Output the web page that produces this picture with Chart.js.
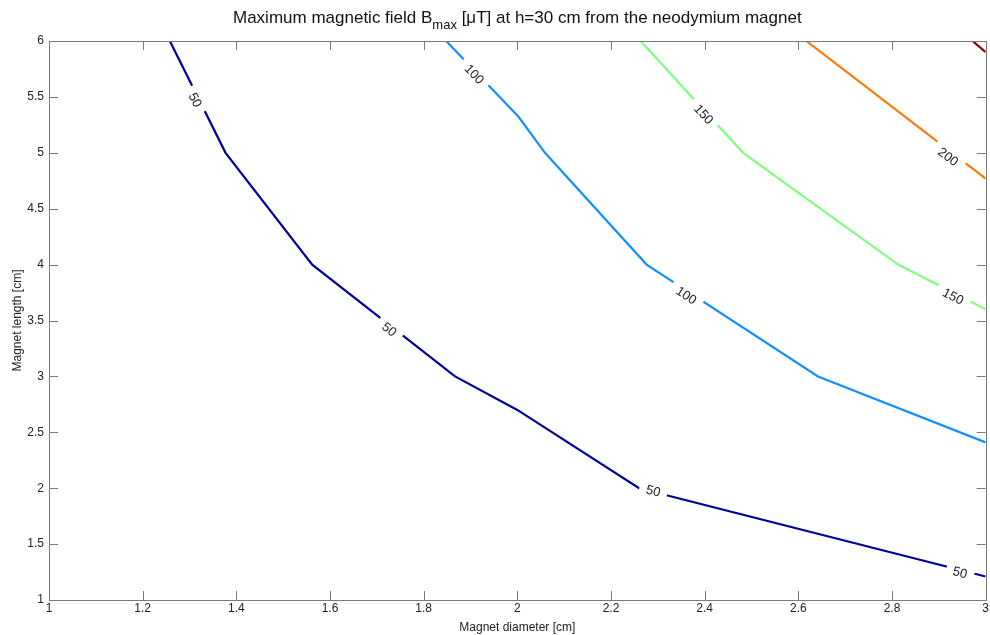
<!DOCTYPE html>
<html>
<head>
<meta charset="utf-8">
<script src="https://cdn.jsdelivr.net/npm/chart.js@4.4.1/dist/chart.umd.min.js"></script>
<style>
html,body{margin:0;padding:0;background:#fff;}
#wrap{width:990px;height:635px;position:relative;}
</style>
</head>
<body>
<div id="wrap"><canvas id="c" width="990" height="635"></canvas></div>
<script>
// ---- data ----
const xTicks = [1, 1.2, 1.4, 1.6, 1.8, 2, 2.2, 2.4, 2.6, 2.8, 3];
const yTicks = [1, 1.5, 2, 2.5, 3, 3.5, 4, 4.5, 5, 5.5, 6];
const levels = [50, 100, 150, 200, 250];
const levelColors = ['#00009a', '#1390ff', '#80ff80', '#ff7a00', '#8a0000'];

const diam50 = [1.258, 1.377, 1.562, 1.867, 2.0, 2.26, 3.0];
const len50  = [6.0,   5.0,   4.0,   3.0,   2.70, 2.0, 1.21];
const diam100 = [1.848, 2.003, 2.059, 2.276, 2.642, 3.0];
const len100  = [6.0,   5.32,  5.0,   4.0,   3.0,   2.41];
const diam150 = [2.263, 2.482, 2.813, 3.0];
const len150  = [6.0,   5.0,   4.0,   3.60];
const diam200 = [2.617, 3.0];
const len200  = [6.0,   4.77];
const diam250 = [2.972, 3.0];
const len250  = [6.0,   5.9];

// contour label positions
const labelLevel = [50, 50, 50, 50, 100, 100, 150, 150, 200];
const labelDiam  = [1.311, 1.726, 2.29, 2.945, 1.907, 2.36, 2.397, 2.93, 2.919];
const labelLen   = [5.47, 3.415, 1.97, 1.24, 5.70, 3.72, 5.34, 3.71, 4.96];

const series = [[diam50,len50],[diam100,len100],[diam150,len150],[diam200,len200],[diam250,len250]];
const datasets = series.map((s,i)=>({
  label: String(levels[i]),
  data: s[0].map((d,j)=>({x:d, y:s[1][j]})),
  showLine: true,
  borderColor: levelColors[i],
  backgroundColor: levelColors[i],
  borderWidth: 2.2,
  pointRadius: 0,
  tension: 0,
  clip: 0
}));

const FONT = '"Liberation Sans", Arial, sans-serif';

const decor = {
  id: 'decor',
  afterDatasetsDraw(chart) {
    const ctx = chart.ctx;
    const xs = chart.scales.x, ys = chart.scales.y;
    const a = chart.chartArea;
    // contour labels
    ctx.save();
    ctx.font = '13px ' + FONT;
    for (let k = 0; k < labelLevel.length; k++) {
      const li = levels.indexOf(labelLevel[k]);
      const pts = chart.data.datasets[li].data;
      const px = xs.getPixelForValue(labelDiam[k]);
      const py = ys.getPixelForValue(labelLen[k]);
      let ang = 0;
      for (let j = 0; j < pts.length - 1; j++) {
        if (labelDiam[k] >= pts[j].x && labelDiam[k] <= pts[j+1].x) {
          const x1 = xs.getPixelForValue(pts[j].x), y1 = ys.getPixelForValue(pts[j].y);
          const x2 = xs.getPixelForValue(pts[j+1].x), y2 = ys.getPixelForValue(pts[j+1].y);
          ang = Math.atan2(y2 - y1, x2 - x1);
        }
      }
      const txt = String(labelLevel[k]);
      const w = ctx.measureText(txt).width;
      ctx.save();
      ctx.translate(px, py);
      ctx.rotate(ang);
      ctx.fillStyle = '#fff';
      ctx.fillRect(-w/2 - 7, -8, w + 14, 16);
      ctx.fillStyle = '#222';
      ctx.textAlign = 'center';
      ctx.textBaseline = 'middle';
      ctx.fillText(txt, 0, 0);
      ctx.restore();
    }
    ctx.restore();
    // axes box and inward ticks
    ctx.save();
    ctx.strokeStyle = '#7a7a7a';
    ctx.lineWidth = 1;
    ctx.strokeRect(Math.round(a.left) + 0.5, Math.round(a.top) + 0.5, Math.round(a.right - a.left), Math.round(a.bottom - a.top));
    ctx.beginPath();
    const tl = 9;
    xTicks.forEach(v => {
      const p = Math.round(xs.getPixelForValue(v)) + 0.5;
      ctx.moveTo(p, a.bottom); ctx.lineTo(p, a.bottom - tl);
      ctx.moveTo(p, a.top); ctx.lineTo(p, a.top + tl);
    });
    yTicks.forEach(v => {
      const p = Math.round(ys.getPixelForValue(v)) + 0.5;
      ctx.moveTo(a.left, p); ctx.lineTo(a.left + tl, p);
      ctx.moveTo(a.right, p); ctx.lineTo(a.right - tl, p);
    });
    ctx.stroke();
    ctx.restore();
    // title with subscript
    ctx.save();
    ctx.fillStyle = '#111';
    const t1 = 'Maximum magnetic field B';
    const sub = 'max';
    const t2 = ' [\u03bcT] at h=30 cm from the neodymium magnet';
    const big = '17px ' + FONT, small = '13px ' + FONT;
    ctx.font = big;
    const w1 = ctx.measureText(t1).width, w3 = ctx.measureText(t2).width;
    ctx.font = small;
    const w2 = ctx.measureText(sub).width;
    const cx = (a.left + a.right) / 2;
    let x0 = cx - (w1 + w2 + w3) / 2;
    const base = 23;
    ctx.textBaseline = 'alphabetic';
    ctx.textAlign = 'left';
    ctx.font = big;
    ctx.fillText(t1, x0, base);
    ctx.font = small;
    ctx.fillText(sub, x0 + w1, base + 6);
    ctx.font = big;
    ctx.fillText(t2, x0 + w1 + w2, base);
    ctx.restore();
  }
};

new Chart(document.getElementById('c'), {
  type: 'scatter',
  data: { datasets },
  options: {
    responsive: false,
    animation: false,
    layout: { autoPadding: false, padding: { top: 41, right: 2, left: 0, bottom: 0 } },
    plugins: { legend: { display: false }, tooltip: { enabled: false }, title: { display: false } },
    scales: {
      x: {
        type: 'linear', min: 1, max: 3,
        afterBuildTicks: s => { s.ticks = xTicks.map(v => ({ value: v })); },
        afterFit: s => { s.height = 35; },
        grid: { display: false, drawTicks: false },
        border: { display: false },
        ticks: { color: '#222', font: { family: FONT, size: 12 }, padding: 1, maxRotation: 0, autoSkip: false, callback: v => String(v) },
        title: { display: true, text: 'Magnet diameter [cm]', color: '#222', font: { family: FONT, size: 12 }, padding: { top: 0, bottom: 0 } }
      },
      y: {
        type: 'linear', min: 1, max: 6,
        afterBuildTicks: s => { s.ticks = yTicks.map(v => ({ value: v })); },
        afterFit: s => { s.width = 49; },
        grid: { display: false, drawTicks: false },
        border: { display: false },
        ticks: { color: '#222', font: { family: FONT, size: 12 }, padding: 5, autoSkip: false, callback: v => String(v) },
        title: { display: true, text: 'Magnet length [cm]', color: '#222', font: { family: FONT, size: 12 }, padding: { top: 10, bottom: 0 } }
      }
    }
  },
  plugins: [decor]
});
</script>
</body>
</html>
